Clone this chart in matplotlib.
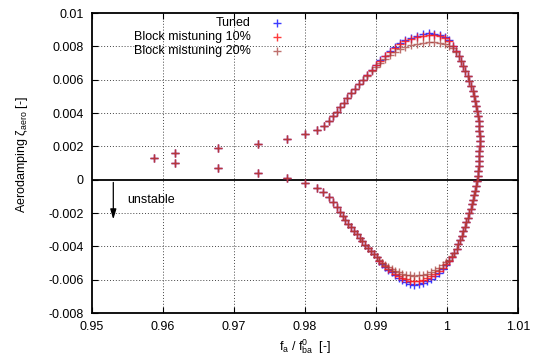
import matplotlib
matplotlib.use("Agg")
import matplotlib.pyplot as plt

plt.rcParams['font.family'] = ['Liberation Sans', 'DejaVu Sans']
plt.rcParams['mathtext.fontset'] = 'custom'
plt.rcParams['mathtext.rm'] = 'Liberation Sans'

# ---------------- data ----------------
tuned_x = [0.95877, 0.96169, 0.96775, 0.97333, 0.97742, 0.98000, 0.98165, 0.98268, 0.98338, 0.98395,
           0.98446, 0.98495, 0.98545, 0.98598, 0.98652, 0.98708, 0.98764, 0.98821, 0.98880, 0.98940,
           0.99000, 0.99062, 0.99126, 0.99192, 0.99262, 0.99336, 0.99414, 0.99494, 0.99576, 0.99658,
           0.99740, 0.99820, 0.99898, 0.99970, 1.00025, 1.00080, 1.00125, 1.00165, 1.00200, 1.00230,
           1.00260, 1.00290, 1.00316, 1.00340, 1.00362, 1.00382, 1.00400, 1.00415, 1.00428, 1.00438,
           1.00446, 1.00452, 1.00456, 1.00458, 1.00459, 1.00458, 1.00456, 1.00453, 1.00449, 1.00444,
           1.00438, 1.00431, 1.00423, 1.00413, 1.00401, 1.00387, 1.00372, 1.00355, 1.00336, 1.00316,
           1.00295, 1.00272, 1.00250, 1.00228, 1.00206, 1.00184, 1.00160, 1.00134, 1.00104, 1.00070,
           1.00032, 0.99990, 0.99940, 0.99888, 0.99834, 0.99778, 0.99720, 0.99660, 0.99600, 0.99540,
           0.99480, 0.99425, 0.99370, 0.99318, 0.99268, 0.99220, 0.99174, 0.99130, 0.99088, 0.99048,
           0.99008, 0.98968, 0.98928, 0.98888, 0.98848, 0.98808, 0.98768, 0.98728, 0.98688, 0.98648,
           0.98608, 0.98570, 0.98532, 0.98493, 0.98450, 0.98399, 0.98335, 0.98258, 0.98165, 0.98000,
           0.97742, 0.97333, 0.96775, 0.96169]
tuned_y = [0.00132, 0.00160, 0.00190, 0.00216, 0.00242, 0.00272, 0.00296, 0.00324, 0.00352, 0.00380,
           0.00408, 0.00436, 0.00462, 0.00490, 0.00518, 0.00546, 0.00572, 0.00598, 0.00628, 0.00658,
           0.00688, 0.00717, 0.00745, 0.00772, 0.00796, 0.00818, 0.00837, 0.00852, 0.00864, 0.00873,
           0.00878, 0.00877, 0.00870, 0.00858, 0.00836, 0.00802, 0.00770, 0.00740, 0.00710, 0.00680,
           0.00650, 0.00620, 0.00590, 0.00560, 0.00530, 0.00500, 0.00470, 0.00440, 0.00410, 0.00380,
           0.00350, 0.00320, 0.00290, 0.00260, 0.00230, 0.00200, 0.00170, 0.00140, 0.00110, 0.00080,
           0.00050, 0.00020, -0.00010, -0.00038, -0.00066, -0.00094, -0.00120, -0.00147, -0.00174, -0.00201,
           -0.00228, -0.00255, -0.00282, -0.00309, -0.00336, -0.00362, -0.00388, -0.00414, -0.00440, -0.00464,
           -0.00488, -0.00510, -0.00535, -0.00557, -0.00576, -0.00594, -0.00608, -0.00620, -0.00628, -0.00631,
           -0.00626, -0.00616, -0.00603, -0.00588, -0.00572, -0.00556, -0.00539, -0.00521, -0.00503, -0.00485,
           -0.00466, -0.00447, -0.00428, -0.00409, -0.00389, -0.00369, -0.00348, -0.00327, -0.00306, -0.00285,
           -0.00263, -0.00241, -0.00218, -0.00194, -0.00165, -0.00134, -0.00104, -0.00076, -0.00048, -0.00022,
           0.00008, 0.00038, 0.00068, 0.00100]

mis10_x = [0.95877, 0.96169, 0.96775, 0.97333, 0.97742, 0.98000, 0.98165, 0.98268, 0.98338, 0.98395,
           0.98446, 0.98495, 0.98545, 0.98598, 0.98652, 0.98708, 0.98764, 0.98821, 0.98880, 0.98940,
           0.99000, 0.99062, 0.99126, 0.99192, 0.99262, 0.99336, 0.99414, 0.99494, 0.99576, 0.99658,
           0.99740, 0.99820, 0.99898, 0.99970, 1.00025, 1.00080, 1.00125, 1.00165, 1.00200, 1.00230,
           1.00260, 1.00290, 1.00316, 1.00340, 1.00362, 1.00382, 1.00400, 1.00415, 1.00428, 1.00438,
           1.00446, 1.00452, 1.00456, 1.00458, 1.00459, 1.00458, 1.00456, 1.00453, 1.00449, 1.00444,
           1.00438, 1.00431, 1.00423, 1.00413, 1.00401, 1.00387, 1.00372, 1.00355, 1.00336, 1.00316,
           1.00295, 1.00272, 1.00250, 1.00228, 1.00206, 1.00184, 1.00160, 1.00134, 1.00104, 1.00070,
           1.00032, 0.99990, 0.99940, 0.99888, 0.99834, 0.99778, 0.99720, 0.99660, 0.99600, 0.99540,
           0.99480, 0.99425, 0.99370, 0.99318, 0.99268, 0.99220, 0.99174, 0.99130, 0.99088, 0.99048,
           0.99008, 0.98968, 0.98928, 0.98888, 0.98848, 0.98808, 0.98768, 0.98728, 0.98688, 0.98648,
           0.98608, 0.98570, 0.98532, 0.98493, 0.98450, 0.98399, 0.98335, 0.98258, 0.98165, 0.98000,
           0.97742, 0.97333, 0.96775, 0.96169]
mis10_y = [0.00132, 0.00160, 0.00190, 0.00216, 0.00242, 0.00272, 0.00296, 0.00324, 0.00352, 0.00380,
           0.00408, 0.00436, 0.00462, 0.00490, 0.00518, 0.00546, 0.00572, 0.00598, 0.00628, 0.00657,
           0.00686, 0.00714, 0.00741, 0.00767, 0.00791, 0.00812, 0.00830, 0.00844, 0.00855, 0.00863,
           0.00867, 0.00866, 0.00860, 0.00849, 0.00830, 0.00800, 0.00770, 0.00740, 0.00710, 0.00680,
           0.00650, 0.00620, 0.00590, 0.00560, 0.00530, 0.00500, 0.00470, 0.00440, 0.00410, 0.00380,
           0.00350, 0.00320, 0.00290, 0.00260, 0.00230, 0.00200, 0.00170, 0.00140, 0.00110, 0.00080,
           0.00050, 0.00020, -0.00010, -0.00038, -0.00066, -0.00094, -0.00120, -0.00147, -0.00174, -0.00201,
           -0.00228, -0.00255, -0.00282, -0.00309, -0.00336, -0.00362, -0.00388, -0.00414, -0.00440, -0.00463,
           -0.00485, -0.00505, -0.00528, -0.00548, -0.00565, -0.00580, -0.00592, -0.00601, -0.00607, -0.00609,
           -0.00606, -0.00598, -0.00588, -0.00576, -0.00563, -0.00549, -0.00535, -0.00519, -0.00502, -0.00485,
           -0.00466, -0.00447, -0.00428, -0.00409, -0.00389, -0.00369, -0.00348, -0.00327, -0.00306, -0.00285,
           -0.00263, -0.00241, -0.00218, -0.00194, -0.00165, -0.00134, -0.00104, -0.00076, -0.00048, -0.00022,
           0.00008, 0.00038, 0.00068, 0.00100]

mis20_x = [0.95877, 0.96169, 0.96775, 0.97333, 0.97742, 0.98000, 0.98165, 0.98268, 0.98338, 0.98395,
           0.98446, 0.98495, 0.98545, 0.98598, 0.98652, 0.98708, 0.98764, 0.98821, 0.98880, 0.98940,
           0.99000, 0.99062, 0.99126, 0.99192, 0.99262, 0.99336, 0.99414, 0.99494, 0.99576, 0.99658,
           0.99740, 0.99820, 0.99898, 0.99970, 1.00025, 1.00080, 1.00125, 1.00165, 1.00200, 1.00230,
           1.00260, 1.00290, 1.00316, 1.00340, 1.00362, 1.00382, 1.00400, 1.00415, 1.00428, 1.00438,
           1.00446, 1.00452, 1.00456, 1.00458, 1.00459, 1.00458, 1.00456, 1.00453, 1.00449, 1.00444,
           1.00438, 1.00431, 1.00423, 1.00413, 1.00401, 1.00387, 1.00372, 1.00355, 1.00336, 1.00316,
           1.00295, 1.00272, 1.00250, 1.00228, 1.00206, 1.00184, 1.00160, 1.00134, 1.00104, 1.00070,
           1.00032, 0.99990, 0.99940, 0.99888, 0.99834, 0.99778, 0.99720, 0.99660, 0.99600, 0.99540,
           0.99480, 0.99425, 0.99370, 0.99318, 0.99268, 0.99220, 0.99174, 0.99130, 0.99088, 0.99048,
           0.99008, 0.98968, 0.98928, 0.98888, 0.98848, 0.98808, 0.98768, 0.98728, 0.98688, 0.98648,
           0.98608, 0.98570, 0.98532, 0.98493, 0.98450, 0.98399, 0.98335, 0.98258, 0.98165, 0.98000,
           0.97742, 0.97333, 0.96775, 0.96169]
mis20_y = [0.00132, 0.00160, 0.00190, 0.00216, 0.00242, 0.00272, 0.00296, 0.00324, 0.00352, 0.00380,
           0.00408, 0.00436, 0.00462, 0.00490, 0.00518, 0.00546, 0.00572, 0.00598, 0.00625, 0.00652,
           0.00678, 0.00703, 0.00726, 0.00747, 0.00766, 0.00782, 0.00796, 0.00808, 0.00817, 0.00823,
           0.00827, 0.00827, 0.00823, 0.00815, 0.00804, 0.00790, 0.00766, 0.00740, 0.00710, 0.00680,
           0.00650, 0.00620, 0.00590, 0.00560, 0.00530, 0.00500, 0.00470, 0.00440, 0.00410, 0.00380,
           0.00350, 0.00320, 0.00290, 0.00260, 0.00230, 0.00200, 0.00170, 0.00140, 0.00110, 0.00080,
           0.00050, 0.00020, -0.00010, -0.00038, -0.00066, -0.00094, -0.00120, -0.00147, -0.00174, -0.00201,
           -0.00228, -0.00255, -0.00282, -0.00309, -0.00336, -0.00362, -0.00388, -0.00414, -0.00440, -0.00460,
           -0.00480, -0.00496, -0.00514, -0.00530, -0.00544, -0.00555, -0.00564, -0.00570, -0.00574, -0.00575,
           -0.00574, -0.00570, -0.00564, -0.00556, -0.00547, -0.00537, -0.00526, -0.00514, -0.00500, -0.00484,
           -0.00466, -0.00447, -0.00428, -0.00409, -0.00389, -0.00369, -0.00348, -0.00327, -0.00306, -0.00285,
           -0.00263, -0.00241, -0.00218, -0.00194, -0.00165, -0.00134, -0.00104, -0.00076, -0.00048, -0.00022,
           0.00008, 0.00038, 0.00068, 0.00100]

series_names = ["Tuned", "Block mistuning 10%", "Block mistuning 20%"]
series_colors = ["#1a1aff", "#ff1a1a", "#a8403c"]

x_ticks = [0.95, 0.96, 0.97, 0.98, 0.99, 1.00, 1.01]
x_tick_labels = ["0.95", "0.96", "0.97", "0.98", "0.99", "1", "1.01"]
y_ticks = [-0.008, -0.006, -0.004, -0.002, 0.0, 0.002, 0.004, 0.006, 0.008, 0.01]
y_tick_labels = ["-0.008", "-0.006", "-0.004", "-0.002", "0", "0.002", "0.004", "0.006", "0.008", "0.01"]

# ---------------- figure ----------------
fig = plt.figure(figsize=(5.40, 3.62), dpi=100)
ax = fig.add_axes([92/540, 1 - 313/362, (518 - 92)/540, (313 - 13)/362])
ax.set_xlim(0.95, 1.01)
ax.set_ylim(-0.008, 0.01)

# grid (dotted), skip edges and zero
for xv in x_ticks[1:-1]:
    ax.axvline(xv, color="#444444", lw=0.7, ls=(0, (1, 2)), zorder=1)
for yv in y_ticks[1:-1]:
    if yv != 0.0:
        ax.axhline(yv, color="#444444", lw=0.7, ls=(0, (1, 2)), zorder=1)
ax.axhline(0.0, color="black", lw=1.3, zorder=2)

all_x = [tuned_x, mis10_x, mis20_x]
all_y = [tuned_y, mis10_y, mis20_y]
alphas = [0.85, 0.85, 0.75]
for xs, ys, c, a in zip(all_x, all_y, series_colors, alphas):
    ax.plot(xs, ys, ls="none", marker="+", ms=5.5, mew=1.0, color=c, alpha=a, zorder=3)

ax.set_xticks(x_ticks)
ax.set_xticklabels(x_tick_labels)
ax.set_yticks(y_ticks)
ax.set_yticklabels(y_tick_labels)
ax.tick_params(direction="in", length=4, width=0.8, top=True, right=True,
               labelsize=9, pad=6)
for sp in ax.spines.values():
    sp.set_linewidth(1.3)

ax.set_xlabel(r"f$_{\mathregular{a}}$ / f$_{\mathregular{ba}}^{\mathregular{0}}$  [-]", fontsize=9)
ax.xaxis.set_label_coords(0.5, -0.08)
ax.set_ylabel(r"Aerodamping ζ$_{\mathregular{aero}}$ [-]", fontsize=9)
ax.yaxis.set_label_coords(-0.145, 0.53)

# legend (gnuplot style: right-aligned text, marker on right)
leg_rows = [0.967, 0.920, 0.873]
for name, c, yy, a in zip(series_names, series_colors, leg_rows, alphas):
    ax.text(0.373, yy, name, transform=ax.transAxes, ha="right", va="center", fontsize=9)
    ax.plot([0.434], [yy], transform=ax.transAxes, ls="none", marker="+", ms=5.5, mew=1.0,
            color=c, alpha=a, clip_on=False)

# unstable arrow
ax.annotate("", xy=(0.9530, -0.00255), xytext=(0.9530, 0.0),
            arrowprops=dict(arrowstyle="-|>,head_length=0.6,head_width=0.18", color="black", lw=0.9))
ax.text(0.9550, -0.0012, "unstable", ha="left", va="center", fontsize=9)

fig.savefig("out.png", dpi=100)
